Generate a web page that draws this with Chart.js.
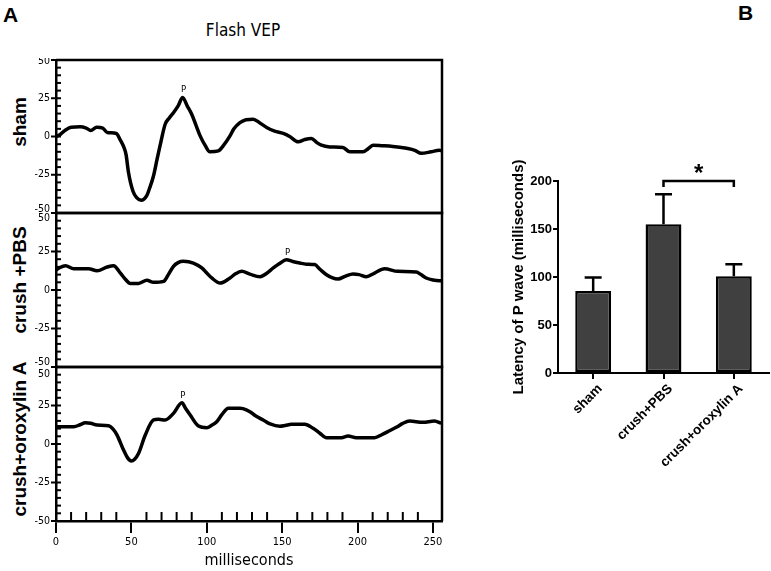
<!DOCTYPE html>
<html><head><meta charset="utf-8">
<script src="https://cdn.jsdelivr.net/npm/chart.js@4/dist/chart.umd.min.js"></script>
<style>
html,body{margin:0;padding:0;background:#fff;}
body{width:771px;height:571px;position:relative;overflow:hidden;}
canvas{position:absolute;}
.t{position:absolute;white-space:nowrap;color:#000;line-height:1;}
.rot{transform:translate(-50%,-50%) rotate(-90deg);}
.bold{font-family:"Liberation Sans",Arial,sans-serif;font-weight:bold;}
</style></head><body>
<div class="t bold" style="left:3px;top:4px;font-size:21px;">A</div>
<div class="t bold" style="left:738px;top:2px;font-size:21px;">B</div>
<div class="t" style="left:243px;top:22px;font-size:17px;transform:translateX(-50%);font-family:'Liberation Sans Narrow','DejaVu Sans Condensed',sans-serif;">Flash VEP</div>
<div class="t bold rot" style="left:18.5px;top:122px;font-size:19px;">sham</div>
<div class="t bold rot" style="left:18.5px;top:280px;font-size:19px;">crush +PBS</div>
<div class="t bold rot" style="left:18.5px;top:439px;font-size:19px;">crush+oroxylin A</div>

<canvas id="c1" width="446" height="157" style="left:0;top:58px;width:446px;height:157px;"></canvas>
<canvas id="c2" width="446" height="158" style="left:0;top:211px;width:446px;height:158px;"></canvas>
<canvas id="c3" width="446" height="206" style="left:0;top:365px;width:446px;height:206px;"></canvas>
<canvas id="bar" width="271" height="339" style="left:500px;top:151px;width:271px;height:339px;"></canvas>

<script>
// ---------------- DATA ----------------
// Flash VEP traces: time (ms) and amplitude
const shamTime = [0,3,6,10,16,20,23,27,31,34,40,42.5,45,46.5,48,51,53.5,56.5,60,62,64.6,67,69,72.4,75,78,81,84,87,90,93,95.6,99,102,107.7,111,115.4,118,122,126,130.8,135,139.7,145,150.7,155,160.6,165,169.4,173,176,181.5,190.3,194.8,203.6,207,210.2,216,223.4,233.3,238,242.2,248.8,254.3,256];
const shamAmp  = [0,1.5,4,6,6.3,5.5,4,6,5.5,2.6,2,-2,-7,-12,-23,-35.6,-40,-41.7,-39,-34,-26,-15,-6,8,12,15.7,20,25.5,20,14.6,7,0.4,-6,-10,-9.4,-6,0.4,5,9,11,11.3,9,5.9,3.5,2,0,-3.5,-2,-1.3,-4,-5.7,-6.8,-7.2,-10,-10,-8,-5.7,-6,-6.5,-7.8,-9,-11,-10,-9,-9.5];

const pbsTime = [0,2,6.3,11.8,21.7,27.2,33.9,38.2,42.7,46,49.3,54.8,60.3,64.7,71.3,74.5,77.9,81,84.5,91.1,96.7,100,103.3,108.8,115.4,119,123.1,128.6,135.3,140,144.1,148,152.9,157,161.7,166,171.6,175,179.4,183,187,192,197,201,205.8,211.3,217.9,226.7,238.9,242,245.5,250,254.3,256];
const pbsAmp  = [13,14.3,15.8,13.8,13.8,12.5,14.9,15.8,11,7,4.3,4.3,6.3,5,5.6,10,15.4,17.8,18.6,17.5,14.3,11,7.8,4.5,7.8,10.5,12.1,10.3,8.6,11,14.3,17,19.7,18.5,17.5,16.8,16.5,13.5,9.9,8,7.1,9,10.4,10,8.6,11,13.8,12.1,11.7,10,7.8,6.5,6,6];

const oroTime = [0,5,11.8,16,19.5,23,27.2,34.9,38,40.5,44.8,47.5,49.9,52,54.8,59.2,64.7,68,72.4,77.9,83.5,86,89,94.5,100,103,106.6,110,114.3,122,124,128.6,132,137.4,142,148.5,152,156.2,165,170.5,175,179.4,189.3,193.7,199.2,211.3,216,221.2,226,230,234.5,243.3,251,255.4];
const oroAmp  = [11.2,11.2,11.2,12.5,13.8,13.5,12.3,11.9,9.5,5.8,-3.9,-9,-11,-10,-6,5.8,15.6,16,15.6,19.9,26.8,23,18.8,11.7,10.6,12,14.5,19,23.2,23.2,23,21,18.5,15.6,13,11.5,12,12.8,12.8,10.2,7,4.1,4.1,5.2,4.1,4.1,6,8.6,11,13.4,14.9,14.1,14.9,13.4];

// P wave peaks [ms, amplitude]
const shamP = [84, 25.5];
const pbsP  = [152.9, 19.7];
const oroP  = [83.5, 26.8];

const vepYTicks = [-50, -25, 0, 25, 50];
const vepYMinorStep = 5;
const vepXTicks = [0, 50, 100, 150, 200, 250];
const vepXMinorStep = 10;

// Panel B: latency of P wave
const groups = ['sham', 'crush+PBS', 'crush+oroxylin A'];
const latencyMean = [85.4, 155, 100.7];
const latencySem  = [14, 31.2, 12.5];
const latencyTicks = [0, 50, 100, 150, 200];
const sigPair = [1, 2];
const sigLevel = 200;
const sigDrop = 6.3;
const sigLabel = '*';

// ---------------- RENDER ----------------
const NARROW = '"Liberation Sans Narrow","DejaVu Sans Condensed","Liberation Sans",sans-serif';
const ARIAL = '"Liberation Sans",Arial,sans-serif';
const toPts = (t, a) => t.map((x, i) => ({x, y: a[i]}));

const vepPlugin = {
  id: 'vep',
  afterDraw(chart, args, o) {
    const {ctx, chartArea: a, scales: {x, y}} = chart;
    ctx.save();
    ctx.strokeStyle = '#000'; ctx.fillStyle = '#000';
    ctx.lineWidth = 2.5;
    ctx.beginPath();
    ctx.moveTo(a.left, a.top); ctx.lineTo(a.right, a.top); ctx.lineTo(a.right, a.bottom);
    if (!o.bottomAxis) ctx.lineTo(a.left, a.bottom);
    ctx.stroke();
    const ax = a.left;
    ctx.lineWidth = 2;
    for (let v = vepYTicks[0]; v <= vepYTicks[vepYTicks.length - 1]; v += vepYMinorStep) {
      const py = y.getPixelForValue(v);
      const major = vepYTicks.includes(v);
      ctx.beginPath();
      ctx.moveTo(major ? ax - 5 : ax, py); ctx.lineTo(ax + 5, py);
      ctx.stroke();
    }
    ctx.font = '10.5px ' + NARROW; ctx.textAlign = 'right'; ctx.textBaseline = 'middle';
    vepYTicks.forEach(v => {
      let py = y.getPixelForValue(v);
      py = Math.min(Math.max(py, a.top + o.clampTop), a.bottom - o.clampBottom);
      ctx.fillText(String(v), ax - 6, py);
    });
    if (o.bottomAxis) {
      for (let v = vepXMinorStep; v < x.max; v += vepXMinorStep) {
        if (vepXTicks.includes(v)) continue;
        const px = x.getPixelForValue(v);
        ctx.beginPath(); ctx.moveTo(px, a.bottom); ctx.lineTo(px, a.bottom - 9); ctx.stroke();
      }
    }
    ctx.font = '9.5px ' + NARROW; ctx.textAlign = 'center'; ctx.textBaseline = 'alphabetic';
    const px = x.getPixelForValue(o.peak[0]), py = y.getPixelForValue(o.peak[1]);
    ctx.fillText('P', px + 1, py - 5);
    ctx.restore();
  }
};

function makeTrace(id, time, amp, peak, o) {
  const bottom = !!o.bottomAxis;
  return new Chart(document.getElementById(id), {
    type: 'line',
    data: {datasets: [{data: toPts(time, amp), borderColor: '#000', borderWidth: 3.5, pointRadius: 0,
      cubicInterpolationMode: 'monotone', fill: false}]},
    options: {
      responsive: false, animation: false, events: [],
      layout: {padding: {top: 2, right: 4, bottom: bottom ? 0 : 2, left: 0}},
      plugins: {legend: {display: false}, tooltip: {enabled: false},
        vep: {peak, clampTop: o.clampTop, clampBottom: o.clampBottom, bottomAxis: bottom}},
      scales: {
        x: {type: 'linear', min: 0, max: 256, display: bottom,
          afterBuildTicks(s) { s.ticks = vepXTicks.map(v => ({value: v})); },
          grid: {drawOnChartArea: false, tickLength: 12, color: '#000', lineWidth: 2},
          border: {color: '#000', width: 2.5},
          ticks: {color: '#000', font: {family: NARROW, size: 11}, padding: 3, maxRotation: 0, autoSkip: false},
          title: {display: true, text: 'milliseconds', color: '#000', font: {family: NARROW, size: 16}, padding: {top: 0, bottom: 1}},
          afterFit(s) { if (bottom) s.height = 50; }},
        y: {min: -50, max: 50, ticks: {display: false}, grid: {display: false},
          border: {display: true, color: '#000', width: 2.5},
          afterFit(s) { s.width = 56; }}
      }
    },
    plugins: [vepPlugin]
  });
}

makeTrace('c1', shamTime, shamAmp, shamP, {clampTop: 1, clampBottom: 4});
makeTrace('c2', pbsTime, pbsAmp, pbsP, {clampTop: 5, clampBottom: 5});
makeTrace('c3', oroTime, oroAmp, oroP, {clampTop: 7, clampBottom: 0, bottomAxis: true});

const errPlugin = {
  id: 'err',
  afterDatasetsDraw(chart) {
    const {ctx, scales: {y}} = chart;
    const meta = chart.getDatasetMeta(0);
    ctx.save();
    ctx.strokeStyle = '#000'; ctx.fillStyle = '#000'; ctx.lineWidth = 2.5;
    meta.data.forEach((bar, i) => {
      const x = bar.x;
      const yTop = y.getPixelForValue(latencyMean[i]);
      const yErr = y.getPixelForValue(latencyMean[i] + latencySem[i]);
      ctx.beginPath();
      ctx.moveTo(x, yTop); ctx.lineTo(x, yErr);
      ctx.moveTo(x - 8.5, yErr); ctx.lineTo(x + 8.5, yErr);
      ctx.stroke();
    });
    const x1 = meta.data[sigPair[0]].x, x2 = meta.data[sigPair[1]].x;
    const yb = y.getPixelForValue(sigLevel), yt = y.getPixelForValue(sigLevel - sigDrop);
    ctx.beginPath();
    ctx.moveTo(x1, yt); ctx.lineTo(x1, yb); ctx.lineTo(x2, yb); ctx.lineTo(x2, yt);
    ctx.stroke();
    ctx.font = 'bold 24px ' + ARIAL; ctx.textAlign = 'center'; ctx.textBaseline = 'alphabetic';
    ctx.fillText(sigLabel, (x1 + x2) / 2, yb);
    ctx.restore();
  }
};

new Chart(document.getElementById('bar'), {
  type: 'bar',
  data: {labels: groups, datasets: [{data: latencyMean, backgroundColor: '#404040', borderColor: '#000',
    borderWidth: 2.5, borderSkipped: false, barPercentage: 0.51, categoryPercentage: 1}]},
  options: {
    responsive: false, animation: false, events: [],
    layout: {padding: {top: 30, right: 2, left: 0, bottom: 0}},
    plugins: {legend: {display: false}, tooltip: {enabled: false}},
    scales: {
      x: {grid: {offset: false, drawOnChartArea: false, tickLength: 6, color: '#000', lineWidth: 2},
        border: {color: '#000', width: 2},
        ticks: {color: '#000', font: {family: ARIAL, size: 13.5, weight: 'bold'}, minRotation: 45, maxRotation: 45,
          padding: 2, labelOffset: 7, autoSkip: false},
        afterFit(s) { s.height = 117; }},
      y: {min: 0, max: 200,
        afterBuildTicks(s) { s.ticks = latencyTicks.map(v => ({value: v})); },
        grid: {drawOnChartArea: false, tickLength: 5, color: '#000', lineWidth: 2},
        border: {color: '#000', width: 2},
        ticks: {color: '#000', font: {family: ARIAL, size: 13, weight: 'bold'}, padding: 1},
        title: {display: true, text: 'Latency of P wave (milliseconds)', color: '#000',
          font: {family: ARIAL, size: 15, weight: 'bold'}, padding: {top: 10, bottom: 0}},
        afterFit(s) { s.width = 58; }}
    }
  },
  plugins: [errPlugin]
});
</script>
</body></html>
